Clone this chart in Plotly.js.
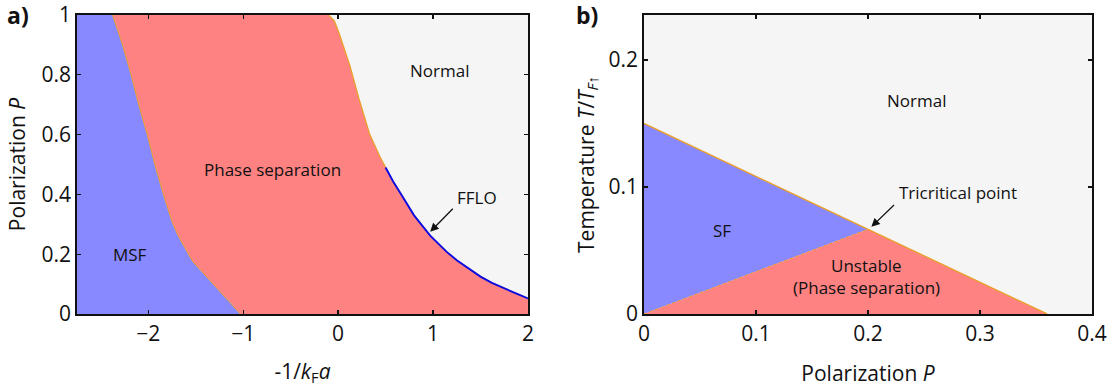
<!DOCTYPE html>
<html>
<head>
<meta charset="utf-8">
<script src="https://cdn.plot.ly/plotly-3.0.1.min.js"></script>
<style>html,body{margin:0;padding:0;background:#fff;}#chart{width:1113px;height:387px;}</style>
</head>
<body>
<div id="chart"></div>
<script>
// ---------- Panel a data: -1/kFa vs polarization P ----------
const xRangeA = [-2.75, 2];
const yRangeA = [0, 1];
const msfBoundaryX = [-2.375, -2.32, -2.27, -2.18, -2.10, -2.01, -1.93, -1.84, -1.75, -1.69, -1.63, -1.575, -1.53, -1.40, -1.28, -1.15, -1.03];
const msfBoundaryP = [1, 0.95, 0.9, 0.8, 0.7, 0.6, 0.5, 0.4, 0.31, 0.265, 0.23, 0.198, 0.175, 0.13, 0.088, 0.045, 0];
const normalBoundaryX = [-0.10, -0.04, 0.01, 0.06, 0.125, 0.22, 0.334, 0.44, 0.5, 0.58, 0.675, 0.8, 0.97, 1.147, 1.25, 1.38, 1.5, 1.62, 1.75, 1.88, 2.0];
const normalBoundaryP = [1, 0.98, 0.94, 0.89, 0.83, 0.72, 0.60, 0.527, 0.49, 0.443, 0.395, 0.33, 0.262, 0.207, 0.18, 0.15, 0.125, 0.104, 0.085, 0.068, 0.052];
const ffloStartX = 0.5;

// ---------- Panel b data: polarization P vs temperature T/TF ----------
const xRangeB = [0, 0.4];
const yRangeB = [0, 0.2354];
const normalLineP = [0, 0.2, 0.36];
const normalLineT = [0.15, 0.0667, 0];
const sfUnstableP = [0, 0.2];
const sfUnstableT = [0, 0.0667];

// ---------- Labels ----------
const labelsA = [
  {text: 'Normal', x: 1.07, y: 0.816},
  {text: 'Phase separation', x: -0.69, y: 0.482},
  {text: 'MSF', x: -2.19, y: 0.2},
  {text: 'FFLO', x: 1.46, y: 0.39}
];
const labelsB = [
  {text: 'Normal', x: 0.2436, y: 0.168},
  {text: 'SF', x: 0.0698, y: 0.066},
  {text: 'Unstable', x: 0.199, y: 0.0385},
  {text: '(Phase separation)', x: 0.199, y: 0.021},
  {text: 'Tricritical point', x: 0.2806, y: 0.0953}
];

const BLUE = '#8888ff', RED = '#ff8282', GREYBG = '#f5f5f5', ORANGE = '#eaa02c';

// Build polygons
const msfPolyX = [xRangeA[0], xRangeA[0]].concat(msfBoundaryX);
const msfPolyY = [yRangeA[0], yRangeA[1]].concat(msfBoundaryP);
const psPolyX = msfBoundaryX.concat([xRangeA[1]], normalBoundaryX.slice().reverse());
const psPolyY = msfBoundaryP.concat([yRangeA[0]], normalBoundaryP.slice().reverse());
const ffloX = normalBoundaryX.filter(v => v >= ffloStartX);
const ffloP = normalBoundaryP.filter((v, i) => normalBoundaryX[i] >= ffloStartX);

const sfPolyX = [sfUnstableP[0], normalLineP[0], normalLineP[1], sfUnstableP[0]];
const sfPolyY = [sfUnstableT[0], normalLineT[0], normalLineT[1], sfUnstableT[0]];
const unPolyX = [sfUnstableP[0], normalLineP[1], normalLineP[2], sfUnstableP[0]];
const unPolyY = [sfUnstableT[0], normalLineT[1], normalLineT[2], sfUnstableT[0]];

const traces = [
  {x: psPolyX, y: psPolyY, xaxis: 'x', yaxis: 'y', type: 'scatter', mode: 'none', fill: 'toself', fillcolor: RED, hoverinfo: 'skip'},
  {x: msfPolyX, y: msfPolyY, xaxis: 'x', yaxis: 'y', type: 'scatter', mode: 'none', fill: 'toself', fillcolor: BLUE, hoverinfo: 'skip'},
  {x: msfBoundaryX, y: msfBoundaryP, xaxis: 'x', yaxis: 'y', type: 'scatter', mode: 'lines', line: {color: ORANGE, width: 1}},
  {x: normalBoundaryX, y: normalBoundaryP, xaxis: 'x', yaxis: 'y', type: 'scatter', mode: 'lines', line: {color: ORANGE, width: 1.3}},
  {x: ffloX, y: ffloP, xaxis: 'x', yaxis: 'y', type: 'scatter', mode: 'lines', line: {color: '#0a0ae6', width: 1.9}},
  {x: sfPolyX, y: sfPolyY, xaxis: 'x2', yaxis: 'y2', type: 'scatter', mode: 'none', fill: 'toself', fillcolor: BLUE, hoverinfo: 'skip'},
  {x: unPolyX, y: unPolyY, xaxis: 'x2', yaxis: 'y2', type: 'scatter', mode: 'none', fill: 'toself', fillcolor: RED, hoverinfo: 'skip'},
  {x: normalLineP, y: normalLineT, xaxis: 'x2', yaxis: 'y2', type: 'scatter', mode: 'lines', line: {color: ORANGE, width: 1.4}},
  {x: sfUnstableP, y: sfUnstableT, xaxis: 'x2', yaxis: 'y2', type: 'scatter', mode: 'lines', line: {color: ORANGE, width: 1, dash: 'dot'}}
];

const FONT = 'Open Sans, sans-serif';
const axisCommon = {
  showgrid: false, zeroline: false, showline: true, linecolor: '#111', linewidth: 1.8,
  mirror: 'ticks', ticks: 'inside', ticklen: 4, tickwidth: 1.2, tickcolor: '#111',
  tickfont: {family: FONT, size: 21, color: '#111'}
};

const annotations = [];
labelsA.forEach(l => annotations.push({xref: 'x', yref: 'y', x: l.x, y: l.y, text: l.text, showarrow: false, font: {family: FONT, size: 17, color: '#111'}}));
labelsB.forEach(l => annotations.push({xref: 'x2', yref: 'y2', x: l.x, y: l.y, text: l.text, showarrow: false, font: {family: FONT, size: 17, color: '#111'}}));
// arrows
annotations.push({xref: 'x', yref: 'y', axref: 'x', ayref: 'y', x: 0.97, y: 0.275, ax: 1.224, ay: 0.357, text: ' ', showarrow: true, arrowhead: 2, arrowsize: 1.3, arrowwidth: 1.3, arrowcolor: '#111', font: {size: 1}});
annotations.push({xref: 'x2', yref: 'y2', axref: 'x2', ayref: 'y2', x: 0.203, y: 0.0686, ax: 0.2246, ay: 0.0869, text: ' ', showarrow: true, arrowhead: 2, arrowsize: 1.3, arrowwidth: 1.3, arrowcolor: '#111', font: {size: 1}});
// panel labels
annotations.push({xref: 'paper', yref: 'paper', x: -0.058, y: 1.0, xanchor: 'center', yanchor: 'middle', text: '<b>a)</b>', showarrow: false, font: {family: FONT, size: 23, color: '#111'}});
annotations.push({xref: 'paper', yref: 'paper', x: 0.5025, y: 1.0, xanchor: 'center', yanchor: 'middle', text: '<b>b)</b>', showarrow: false, font: {family: FONT, size: 23, color: '#111'}});

const layout = {
  width: 1113, height: 387,
  margin: {l: 77, r: 21, t: 15, b: 73},
  paper_bgcolor: '#ffffff', plot_bgcolor: GREYBG,
  showlegend: false,
  font: {family: FONT, color: '#111'},
  xaxis: Object.assign({}, axisCommon, {domain: [0, 0.4443], range: xRangeA, tickvals: [-2, -1, 0, 1, 2],
    title: {text: '-1/<i>k</i><sub>F</sub><i>a</i>', font: {family: FONT, size: 21, color: '#111'}, standoff: 22}}),
  yaxis: Object.assign({}, axisCommon, {domain: [0, 1], range: yRangeA, tickvals: [0, 0.2, 0.4, 0.6, 0.8, 1],
    title: {text: 'Polarization <i>P</i>', font: {family: FONT, size: 21, color: '#111'}, standoff: 10}}),
  xaxis2: Object.assign({}, axisCommon, {domain: [0.5586, 1], range: xRangeB, anchor: 'y2', tickvals: [0, 0.1, 0.2, 0.3, 0.4],
    title: {text: 'Polarization <i>P</i>', font: {family: FONT, size: 21, color: '#111'}, standoff: 22}}),
  yaxis2: Object.assign({}, axisCommon, {domain: [0, 1], range: yRangeB, anchor: 'x2', tickvals: [0, 0.1, 0.2],
    title: {text: 'Temperature <i>T</i>/<i>T</i><sub><i>F</i>↑</sub>', font: {family: FONT, size: 21, color: '#111'}, standoff: 8}}),
  annotations: annotations
};

Plotly.newPlot('chart', traces, layout, {staticPlot: true, displayModeBar: false});
</script>
</body>
</html>
